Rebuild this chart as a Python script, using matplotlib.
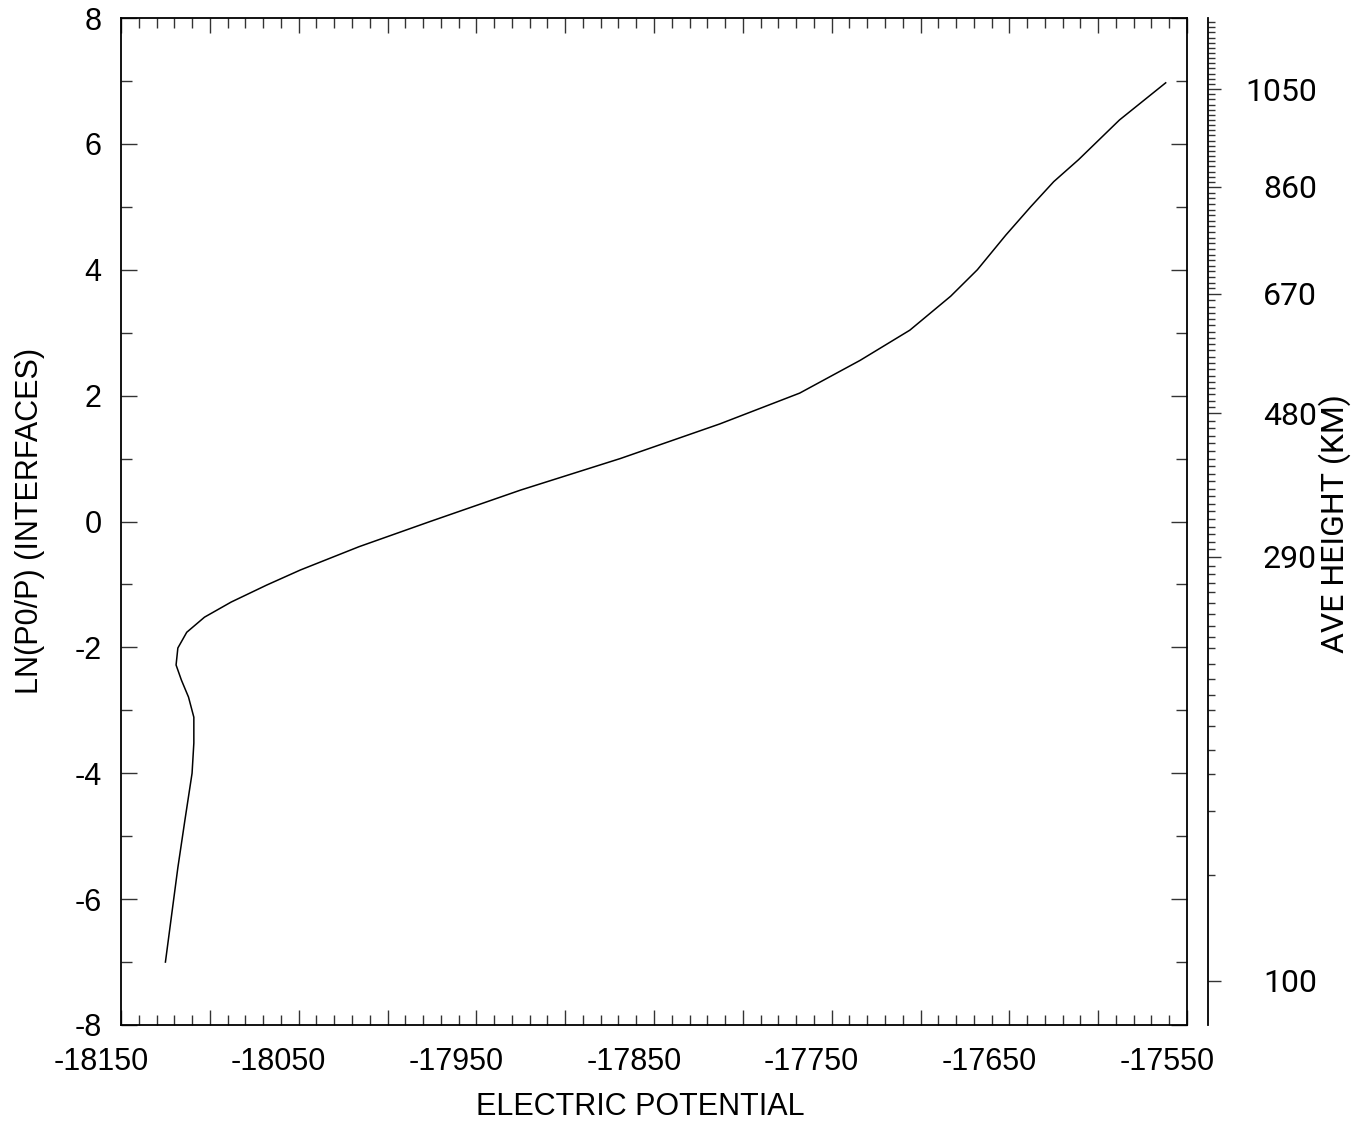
#!/usr/bin/env python3

# electric potential vs ln(p0/p), with average height scale on the right

import numpy as np
import matplotlib
matplotlib.use("Agg")
import matplotlib.pyplot as plt
from matplotlib.ticker import MultipleLocator, FuncFormatter
from matplotlib.transforms import ScaledTranslation

# curve
potential = [-18125, -18118, -18114, -18110, -18109, -18109, -18112, -18116,
             -18119, -18118, -18113, -18103, -18088, -18068, -18049, -18016,
             -17976, -17925, -17869, -17813, -17768, -17734, -17706, -17683,
             -17668, -17652, -17638, -17625, -17611, -17588, -17562]
ln_p0p = [-7.0, -5.5, -4.74, -4.0, -3.52, -3.11, -2.79, -2.52,
          -2.28, -2.01, -1.76, -1.52, -1.28, -1.01, -0.77, -0.4,
          0.0, 0.5, 1.0, 1.55, 2.04, 2.56, 3.04, 3.58,
          4.0, 4.55, 5.0, 5.4, 5.75, 6.38, 6.97]

# average height (km) against ln(p0/p), for the right hand scale
height_km = [100, 110, 120, 130, 150, 200, 250, 290, 480, 670, 860, 1050, 1200]
height_ln = [-7.30, -5.62, -4.60, -4.01, -3.25, -2.01, -1.12, -0.56,
             1.72, 3.615, 5.315, 6.87, 8.1]
height_labels = [100, 290, 480, 670, 860, 1050]

W, H = 1365, 1126
fig = plt.figure(figsize=(W / 100, H / 100), dpi=100)
plt.rcParams['font.family'] = ['Liberation Sans', 'DejaVu Sans']

L, R, T, B = 121, 1187, 18, 1025
ax = fig.add_axes([L / W, (H - B) / H, (R - L) / W, (B - T) / H])
ax.plot(potential, ln_p0p, color='black', lw=1.1)
ax.set_xlim(-18150, -17550)
ax.set_ylim(-8, 8)

ax.xaxis.set_major_locator(MultipleLocator(50))
ax.xaxis.set_minor_locator(MultipleLocator(10))
ax.xaxis.set_major_formatter(FuncFormatter(
    lambda v, p: "%d" % v if round(v + 18150) % 100 == 0 else ""))
ax.yaxis.set_major_locator(MultipleLocator(2))
ax.yaxis.set_minor_locator(MultipleLocator(1))
ax.yaxis.set_major_formatter(FuncFormatter(lambda v, p: "%d" % v))

ax.tick_params(axis='both', which='both', direction='in', top=True, right=True,
               labelsize=22, width=1.0, color='#333333')
ax.tick_params(axis='x', which='major', length=10.8, pad=16)
ax.tick_params(axis='x', which='minor', length=7.2)
ax.tick_params(axis='y', which='major', length=11.5, pad=14)
ax.tick_params(axis='y', which='minor', length=7.9)
for s in ax.spines.values():
    s.set_linewidth(1.3)

# x tick labels sit a little left of their ticks in the original
shift = ScaledTranslation(-20 / 100, 0, fig.dpi_scale_trans)
for lab in ax.get_xticklabels():
    lab.set_transform(lab.get_transform() + shift)

fig.text(640 / W, 1 - 1107 / H, "ELECTRIC POTENTIAL", fontsize=22,
         ha='center', va='center')
fig.text(30 / W, 1 - 521 / H, "LN(P0/P) (INTERFACES)", fontsize=22,
         rotation=90, ha='center', va='center')

# right hand height scale
x2 = 1208
ax2 = fig.add_axes([x2 / W, (H - B) / H, 0.00001, (B - T) / H])
ax2.set_ylim(-8, 8)
ax2.set_xticks([])
for k in ['top', 'bottom', 'left']:
    ax2.spines[k].set_visible(False)
ax2.spines['right'].set_linewidth(1.3)
ax2.yaxis.tick_right()
major_pos = np.interp(height_labels, height_km, height_ln)
minor_h = np.arange(100, 1201, 10)
minor_pos = np.interp(minor_h, height_km, height_ln)
minor_pos = minor_pos[minor_pos <= 8]
ax2.set_yticks(major_pos)
ax2.set_yticklabels([str(h) for h in height_labels], ha='right',
                    fontfamily='Roboto', fontweight='normal', fontsize=23,
                    color='black')
ax2.set_yticks(minor_pos, minor=True)
ax2.tick_params(axis='y', which='major', direction='out', length=9.4,
                width=1.0, pad=69, color='#333333')
ax2.tick_params(axis='y', which='minor', direction='out', length=5,
                width=1.0, color='#333333')

fig.text(1335 / W, 1 - 524 / H, "AVE HEIGHT (KM)", rotation=90,
         ha='center', va='center', fontfamily='Roboto', fontweight='normal',
         fontsize=23, color='black')

plt.savefig("out.png", dpi=100)
